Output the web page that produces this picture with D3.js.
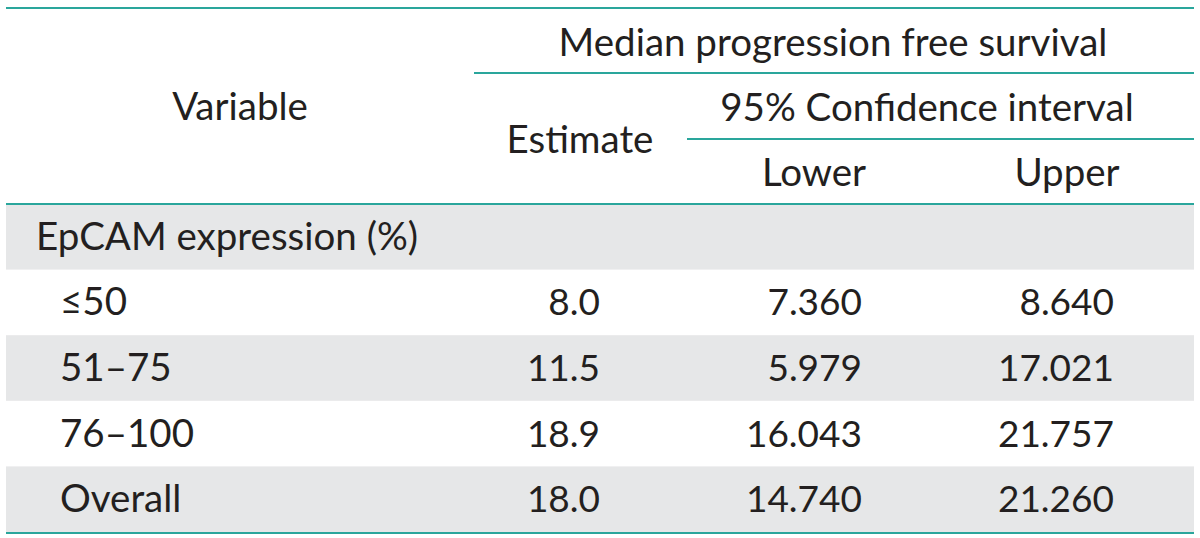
<!DOCTYPE html>
<html>
<head>
<meta charset="utf-8">
<script src="https://cdn.jsdelivr.net/npm/d3@7"></script>
<style>
  html, body { margin: 0; padding: 0; background: #fff; }
  svg { display: block; }
  text { font-family: Lato, "Open Sans", sans-serif; fill: #231f20; }
</style>
</head>
<body>
<svg id="chart" width="1200" height="538"></svg>
<script>
// ---- data ----
const variables = ["EpCAM expression (%)", "\u226450", "51\u201375", "76\u2013100", "Overall"];
const levels    = [0, 1, 1, 1, 1];
const estimate  = [null, 8.0, 11.5, 18.9, 18.0];
const lower     = [null, 7.360, 5.979, 16.043, 14.740];
const upper     = [null, 8.640, 17.021, 21.757, 21.260];
const headerTop = "Median progression free survival";
const headerCI  = "95% Confidence interval";
const colLabels = ["Variable", "Estimate", "Lower", "Upper"];

// ---- layout ----
const left = 6, right = 1194;
const headTop = 8, headBottom = 204, bodyBottom = 532;
const teal = "#2aa69c", stripe = "#e6e7e8";
const fontSize = 38.5;
const numSize = 37;

const svg = d3.select("#chart");

const rowIdx = d3.range(variables.length);
const y = d3.scaleBand().domain(rowIdx).range([headBottom, bodyBottom]);

const colRight = { est: 600, low: 862, up: 1114 };

// stripes
svg.append("g").selectAll("rect")
  .data(rowIdx.filter(i => i % 2 === 0))
  .join("rect")
  .attr("x", left).attr("width", right - left)
  .attr("y", d => y(d)).attr("height", y.bandwidth())
  .attr("fill", stripe);

// header lines
const hLines = [
  { x1: left, x2: right, y: headTop },
  { x1: 474, x2: right, y: 73 },
  { x1: 687, x2: right, y: 139 },
  { x1: left, x2: right, y: headBottom },
  { x1: left, x2: right, y: bodyBottom + 1 }
];
svg.append("g").selectAll("line")
  .data(hLines).join("line")
  .attr("x1", d => d.x1).attr("x2", d => d.x2)
  .attr("y1", d => d.y).attr("y2", d => d.y)
  .attr("stroke", teal).attr("stroke-width", 2.2);

// header texts
const hTexts = [
  { t: headerTop, x: 833, y: 56 },
  { t: colLabels[0], x: 240, y: 120 },
  { t: headerCI, x: 927, y: 121 },
  { t: colLabels[1], x: 580, y: 153 },
  { t: colLabels[2], x: 814, y: 186 },
  { t: colLabels[3], x: 1067, y: 186 }
];
svg.append("g").selectAll("text")
  .data(hTexts).join("text")
  .attr("x", d => d.x).attr("y", d => d.y)
  .attr("text-anchor", "middle")
  .attr("font-size", fontSize)
  .text(d => d.t);

const f1 = d3.format(".1f"), f3 = d3.format(".3f");
const base = i => y(i) + y.bandwidth() / 2 + 13;

const body = svg.append("g");
body.selectAll("text.var")
  .data(rowIdx).join("text").attr("class", "var")
  .attr("x", i => levels[i] ? 60 : 36)
  .attr("y", base)
  .attr("font-size", fontSize)
  .text(i => variables[i]);

const cols = [
  { key: "est", vals: estimate, fmt: f1 },
  { key: "low", vals: lower, fmt: f3 },
  { key: "up", vals: upper, fmt: f3 }
];
cols.forEach(c => {
  body.selectAll("text." + c.key)
    .data(rowIdx.filter(i => c.vals[i] != null)).join("text").attr("class", c.key)
    .attr("x", colRight[c.key])
    .attr("y", base)
    .attr("text-anchor", "end")
    .attr("font-size", numSize)
    .text(i => c.fmt(c.vals[i]));
});
</script>
</body>
</html>
